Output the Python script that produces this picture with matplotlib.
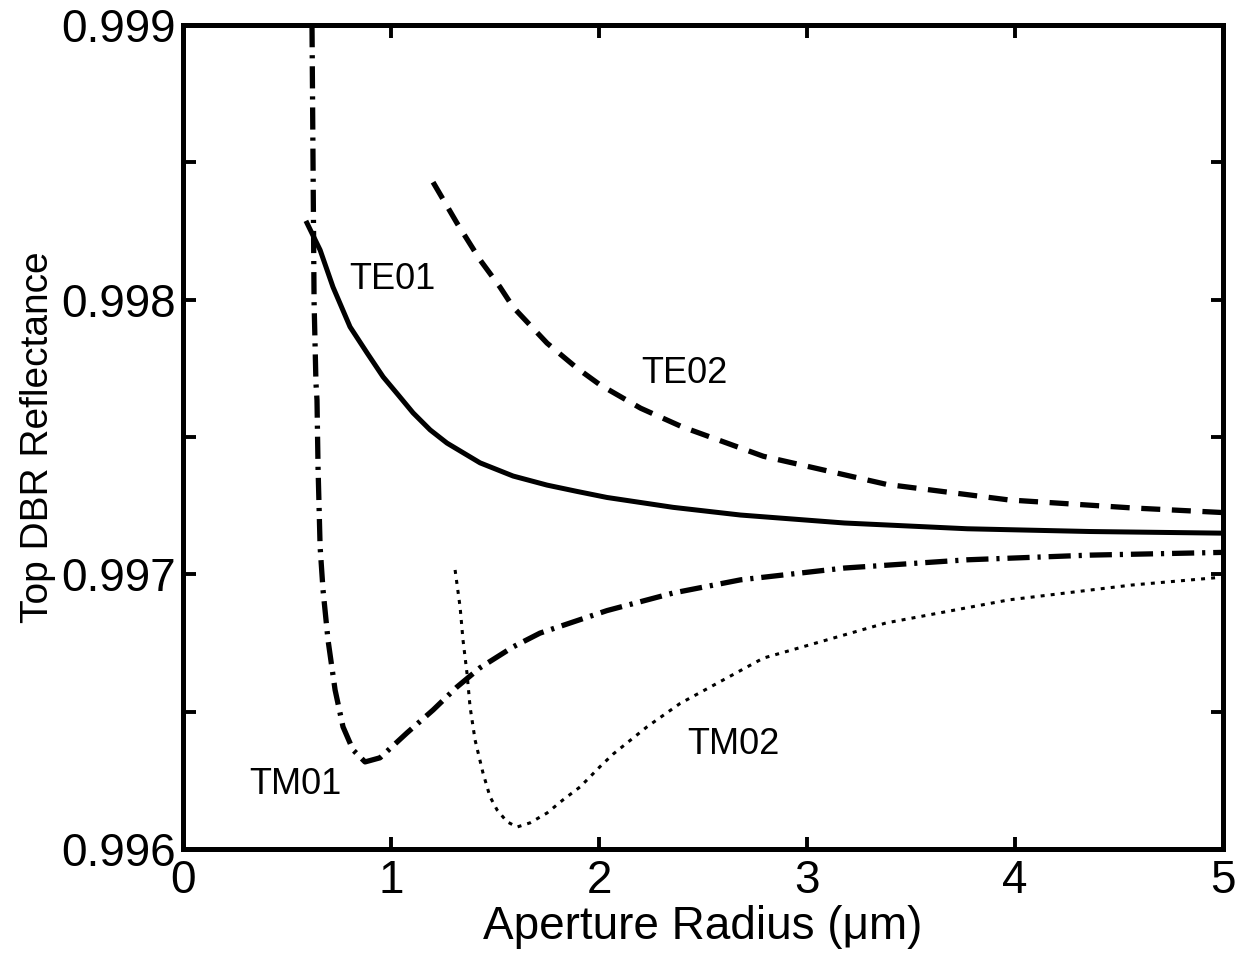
import numpy as np
import matplotlib.pyplot as plt
from matplotlib.ticker import MultipleLocator

# ─── Data ───

te01_r = [0.596, 0.659, 0.721, 0.803, 0.885, 0.962, 1.036, 1.106, 1.188, 1.269, 1.428, 1.587,
          1.75, 1.894, 2.038, 2.356, 2.68, 3.18, 3.77, 4.36, 5.0]
te01_R = [0.998279, 0.998181, 0.998046, 0.997901, 0.997806, 0.997719, 0.997652, 0.997588,
          0.997526, 0.997478, 0.997406, 0.997358, 0.997325, 0.997302, 0.997280, 0.997244,
          0.997216, 0.997187, 0.997166, 0.997156, 0.997150]

te02_r = [1.202, 1.317, 1.428, 1.524, 1.587, 1.75, 1.894, 2.005, 2.20, 2.40, 2.79, 3.38, 3.97,
          4.56, 5.0]
te02_R = [0.998428, 0.998279, 0.998145, 0.998046, 0.997973, 0.997842, 0.997751, 0.997690,
          0.997605, 0.997537, 0.997430, 0.997328, 0.997271, 0.997242, 0.997225]

tm01_r = [0.620, 0.625, 0.630, 0.639, 0.644, 0.649, 0.659, 0.673, 0.697, 0.731, 0.769, 0.817,
          0.875, 0.947, 1.077, 1.202, 1.317, 1.428, 1.587, 1.716, 2.038, 2.356, 2.68, 3.18,
          3.77, 4.36, 5.0]
tm01_R = [0.999000, 0.998494, 0.997992, 0.997697, 0.997635, 0.997391, 0.997100, 0.996943,
          0.996761, 0.996579, 0.996445, 0.996361, 0.996317, 0.996332, 0.996423, 0.996506,
          0.996590, 0.996660, 0.996736, 0.996786, 0.996868, 0.996932, 0.996980, 0.997023,
          0.997053, 0.997070, 0.997080]

tm02_r = [1.308, 1.332, 1.346, 1.365, 1.380, 1.404, 1.442, 1.476, 1.510, 1.558, 1.606, 1.668,
          1.75, 1.827, 1.909, 2.005, 2.067, 2.231, 2.39, 2.79, 3.38, 3.97, 4.56, 5.0]
tm02_R = [0.997016, 0.996881, 0.996761, 0.996641, 0.996517, 0.996397, 0.996277, 0.996190,
          0.996142, 0.996099, 0.996080, 0.996095, 0.996131, 0.996179, 0.996226, 0.996300,
          0.996345, 0.996445, 0.996530, 0.996695, 0.996823, 0.996907, 0.996961, 0.996990]

mode_labels = ['TE01', 'TE02', 'TM01', 'TM02']
label_r = [1.005, 2.413, 0.538, 2.644]
label_R = [0.998072, 0.997733, 0.996233, 0.996379]

# ─── Figure ───

fig = plt.figure(figsize=(12.41, 9.58), dpi=100)
ax = fig.add_axes([0.1475, 0.1138, 0.838, 0.860])

ax.plot(te01_r, te01_R, '-', color='black', linewidth=3.6)
ax.plot(te02_r, te02_R, color='black', linewidth=3.8, linestyle=(0, (3.6, 2.2)))
ax.plot(tm01_r, tm01_R, color='black', linewidth=3.8, linestyle=(0, (4.2, 1.5, 0.6, 1.5)))
ax.plot(tm02_r, tm02_R, color='black', linewidth=2.2, linestyle=(0, (1.3, 2.0)))

for txt, r, R in zip(mode_labels, label_r, label_R):
    ax.text(r, R, txt, ha='center', va='center', fontsize=26, family='Liberation Sans')

ax.set_xlim(0, 5)
ax.set_ylim(0.996, 0.999)
ax.xaxis.set_major_locator(MultipleLocator(1))
ax.yaxis.set_major_locator(MultipleLocator(0.001))
ax.yaxis.set_minor_locator(MultipleLocator(0.0005))
ax.yaxis.set_major_formatter(plt.FormatStrFormatter('%.3f'))

ax.tick_params(which='both', direction='in', top=True, right=True, length=9, width=2.8)
ax.tick_params(axis='x', pad=7)
ax.tick_params(axis='y', pad=5)
for lab in ax.get_xticklabels() + ax.get_yticklabels():
    lab.set_family('Liberation Sans')
    lab.set_fontsize(33)

for s in ax.spines.values():
    s.set_linewidth(3.6)

ax.set_xlabel('Aperture Radius (μm)', fontsize=33, family='Liberation Sans', labelpad=2)
ax.set_ylabel('Top DBR Reflectance', fontsize=28, family='Liberation Sans', labelpad=4)

plt.savefig('out.png', dpi=100)
plt.close()
